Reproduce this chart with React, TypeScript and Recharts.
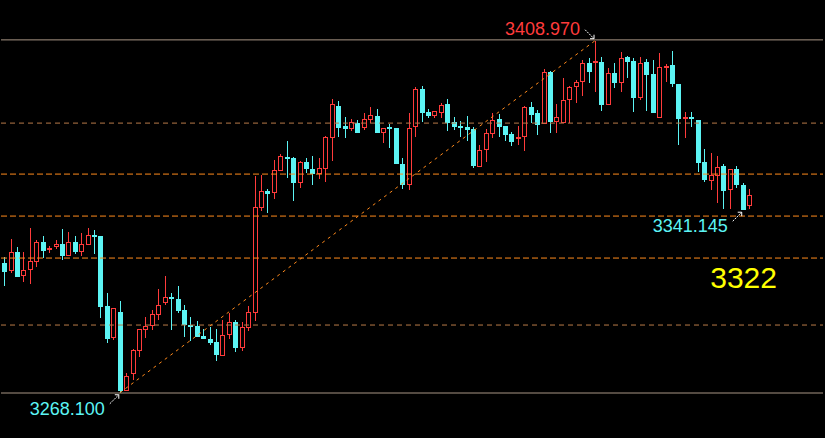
import { ComposedChart, Bar, Line, XAxis, YAxis, ReferenceLine, ReferenceDot } from 'recharts'

// OHLC per candle (left -> right)
const opens = [
  3320.2, 3316.9, 3324.5, 3315.0, 3317.4, 3320.6, 3328.5, 3325.2, 3326.6, 3327.7,
  3323.0, 3328.5, 3324.6, 3327.4, 3331.3, 3330.9, 3302.9, 3290.2, 3300.5, 3269.0,
  3275.6, 3285.0, 3293.4, 3294.9, 3299.4, 3304.2, 3306.4, 3305.7, 3301.3, 3295.2,
  3294.9, 3290.9, 3289.7, 3288.5, 3283.0, 3291.2, 3296.5, 3286.2, 3294.0, 3300.0,
  3342.2, 3348.9, 3348.2, 3357.0, 3362.5, 3362.1, 3352.2, 3360.5, 3357.7, 3355.8,
  3357.8, 3370.2, 3382.9, 3374.8, 3373.7, 3376.0, 3374.2, 3377.4, 3378.9, 3372.0,
  3374.4, 3374.0, 3359.7, 3351.4, 3374.6, 3389.6, 3380.4, 3379.0, 3380.2, 3383.7,
  3376.5, 3374.9, 3374.4, 3373.6, 3358.6, 3365.2, 3371.6, 3377.6, 3374.8, 3371.6,
  3369.8, 3370.4, 3382.4, 3380.0, 3375.6, 3396.5, 3376.6, 3376.0, 3385.2, 3390.4,
  3392.4, 3400.0, 3400.2, 3400.4, 3383.4, 3396.0, 3392.2, 3402.4, 3400.8, 3386.2,
  3400.4, 3395.6, 3378.0, 3398.2, 3399.2, 3391.6, 3377.6, 3378.4, 3377.3, 3360.5,
  3353.0, 3355.0, 3358.9, 3349.4, 3357.7, 3351.4, 3342.7,
]
const highs = [
  3322.6, 3329.7, 3326.5, 3324.5, 3334.1, 3329.3, 3330.9, 3326.9, 3329.3, 3333.7,
  3332.5, 3330.9, 3332.1, 3334.1, 3333.3, 3330.9, 3308.1, 3302.0, 3304.9, 3276.1,
  3285.7, 3293.7, 3298.5, 3301.3, 3309.7, 3314.9, 3308.0, 3310.9, 3303.3, 3298.5,
  3296.9, 3293.7, 3294.5, 3293.7, 3297.3, 3300.1, 3297.2, 3296.4, 3302.9, 3354.9,
  3355.3, 3349.7, 3361.3, 3363.7, 3368.9, 3362.5, 3360.9, 3362.1, 3362.9, 3362.1,
  3370.9, 3385.7, 3384.9, 3378.4, 3377.6, 3377.2, 3380.0, 3382.5, 3381.7, 3374.0,
  3375.6, 3374.0, 3362.0, 3380.0, 3390.4, 3390.8, 3381.6, 3380.8, 3384.0, 3385.6,
  3378.6, 3376.8, 3378.8, 3374.6, 3367.2, 3373.6, 3380.0, 3379.6, 3374.8, 3372.4,
  3374.9, 3382.8, 3384.5, 3381.3, 3397.6, 3396.9, 3383.7, 3394.0, 3391.0, 3393.2,
  3401.2, 3402.0, 3408.97, 3402.4, 3398.0, 3400.0, 3404.4, 3402.8, 3402.0, 3402.4,
  3401.6, 3401.2, 3404.0, 3399.7, 3404.8, 3391.6, 3380.4, 3380.4, 3377.3, 3365.8,
  3364.1, 3362.9, 3359.7, 3357.7, 3358.9, 3352.2, 3349.8,
]
const lows = [
  3311.0, 3316.2, 3314.6, 3312.5, 3311.8, 3318.6, 3322.0, 3324.2, 3325.7, 3321.4,
  3323.0, 3323.7, 3323.0, 3327.4, 3323.7, 3298.2, 3288.2, 3289.4, 3268.1, 3269.0,
  3273.3, 3282.6, 3290.2, 3293.3, 3297.3, 3303.3, 3293.3, 3300.2, 3290.6, 3289.0,
  3290.4, 3289.6, 3287.3, 3281.0, 3283.0, 3289.8, 3284.6, 3285.0, 3293.0, 3297.0,
  3341.0, 3340.2, 3345.8, 3357.0, 3354.2, 3345.0, 3350.2, 3356.0, 3351.4, 3353.8,
  3352.6, 3361.0, 3370.6, 3370.2, 3373.0, 3372.2, 3373.3, 3376.0, 3372.2, 3368.0,
  3366.0, 3359.6, 3349.8, 3349.4, 3370.6, 3376.6, 3378.2, 3378.2, 3378.2, 3373.0,
  3373.3, 3370.4, 3368.9, 3358.2, 3358.6, 3360.4, 3370.0, 3370.6, 3369.0, 3367.0,
  3367.4, 3365.0, 3376.0, 3371.4, 3375.6, 3372.2, 3372.0, 3376.0, 3376.0, 3384.2,
  3386.9, 3392.2, 3388.6, 3381.0, 3383.4, 3390.2, 3388.6, 3394.0, 3380.6, 3385.4,
  3381.0, 3380.2, 3378.0, 3392.4, 3390.4, 3367.4, 3370.0, 3374.6, 3356.6, 3352.6,
  3349.4, 3344.2, 3341.6, 3341.5, 3350.2, 3341.145, 3341.6,
]
const closes = [
  3316.6, 3324.4, 3314.6, 3317.3, 3320.9, 3328.5, 3325.0, 3326.1, 3327.7, 3323.0,
  3328.5, 3324.5, 3327.7, 3331.3, 3330.6, 3302.6, 3289.8, 3302.0, 3269.0, 3274.9,
  3285.3, 3293.7, 3294.9, 3299.7, 3303.3, 3306.4, 3305.7, 3300.9, 3295.3, 3294.6,
  3290.4, 3289.6, 3288.2, 3283.3, 3291.2, 3296.4, 3286.2, 3294.4, 3300.4, 3342.4,
  3348.9, 3347.7, 3357.2, 3362.9, 3361.8, 3352.2, 3360.5, 3357.6, 3355.8, 3358.0,
  3370.4, 3383.6, 3374.2, 3373.7, 3376.4, 3372.2, 3377.6, 3379.2, 3372.2, 3374.0,
  3373.7, 3359.6, 3351.4, 3374.0, 3389.6, 3380.2, 3379.0, 3380.8, 3383.2, 3376.0,
  3374.6, 3374.2, 3373.3, 3358.9, 3365.2, 3372.0, 3377.2, 3374.6, 3371.4, 3368.6,
  3370.4, 3382.4, 3379.3, 3375.3, 3396.4, 3376.5, 3378.4, 3385.2, 3390.4, 3392.4,
  3400.0, 3396.6, 3400.8, 3383.4, 3396.0, 3392.2, 3402.0, 3400.6, 3386.2, 3400.0,
  3395.4, 3380.2, 3398.6, 3398.8, 3391.6, 3377.6, 3378.4, 3377.6, 3360.2, 3353.3,
  3355.3, 3358.5, 3349.0, 3357.7, 3351.4, 3341.3, 3347.2,
]

// horizontal levels
const solidLevels = [3409.3, 3268.0]
const faintLevels = [3376.0, 3295.2]
const keyLevels = [3355.6, 3338.8, 3322.0]
const markLevel = 3322

const LOW_IDX = 18
const HIGH_IDX = 92
const LAST_LOW_IDX = 115
const SLOTS = 128 // empty space on the right

const data = Array.from({ length: SLOTS }, (_, i) => ({
  i,
  open: opens[i],
  high: highs[i],
  low: lows[i],
  close: closes[i],
  trend: i === LOW_IDX ? lows[LOW_IDX] : i === HIGH_IDX ? highs[HIGH_IDX] : null,
}))

const UP = '#ff3b3b'
const DOWN = '#5cf4f4'
const ORANGE = '#ff8a1c'
const FONT = 'Liberation Sans, Arial, sans-serif'

function Candle(props: any) {
  const { x, y, width, height, payload } = props
  if (!payload || payload.open == null) return <g />
  const top = Math.min(y, y + height)
  const bot = Math.max(y, y + height)
  const k = (bot - top) / (payload.high - payload.low)
  const cx = Math.round(x + width / 2)
  const yO = top + (payload.high - payload.open) * k
  const yC = top + (payload.high - payload.close) * k
  const up = payload.close >= payload.open
  const color = up ? UP : DOWN
  const bTop = Math.round(Math.min(yO, yC))
  const bBot = Math.max(Math.round(Math.max(yO, yC)), bTop + 1)
  return (
    <g>
      <line x1={cx + 0.5} x2={cx + 0.5} y1={Math.round(top)} y2={Math.round(bot)} stroke={color} />
      {up ? (
        <rect x={cx - 1.5} y={bTop + 0.5} width={4} height={Math.max(bBot - bTop - 1, 0)} fill="#000" stroke={color} />
      ) : (
        <rect x={cx - 2} y={bTop} width={5} height={bBot - bTop} fill={color} />
      )}
    </g>
  )
}

// small white arrow pointing at the extreme, with the price beside it
function Marker(text: string, color: string, below: boolean) {
  return (props: any) => {
    const { cx, cy } = props
    const s = below ? 1 : -1
    const tx = cx - 1
    const ty = cy + s * 2
    return (
      <g>
        <line x1={tx - 9} y1={ty + s * 9} x2={tx} y2={ty} stroke="#fff" strokeDasharray="2 1" />
        <polyline points={`${tx - 4},${ty} ${tx},${ty} ${tx},${ty + s * 4}`} fill="none" stroke="#fff" />
        <text x={cx - 15} y={below ? cy + 22 : cy - 6} textAnchor="end" fill={color} fontSize={18} fontFamily={FONT}>
          {text}
        </text>
      </g>
    )
  }
}

function LevelLabel(props: any) {
  const { viewBox } = props
  return (
    <text x={viewBox.x + viewBox.width - 46} y={viewBox.y + 30} textAnchor="end" fill="#ffff00" fontSize={30} fontFamily={FONT}>
      {String(markLevel)}
    </text>
  )
}

export default function App() {
  return (
    <div style={{ position: 'absolute', left: 0, top: 0, width: 825, height: 438, background: '#000' }}>
      <ComposedChart width={825} height={438} data={data} margin={{ top: 0, right: 2, bottom: 0, left: 1 }}>
        <XAxis dataKey="i" type="category" hide />
        <YAxis hide domain={[3250, 3425.26]} allowDataOverflow />
        {solidLevels.map(v => (
          <ReferenceLine key={v} y={v} stroke="#a89584" strokeWidth={1} />
        ))}
        {faintLevels.map(v => (
          <ReferenceLine key={v} y={v} stroke="#b87a48" strokeDasharray="5 4" />
        ))}
        {keyLevels.map(v => (
          <ReferenceLine
            key={v}
            y={v}
            stroke={ORANGE}
            strokeDasharray="6 3"
            label={v === markLevel ? <LevelLabel /> : undefined}
          />
        ))}
        <Line
          dataKey="trend"
          stroke={ORANGE}
          strokeDasharray="3 4"
          strokeWidth={1}
          dot={false}
          activeDot={false}
          connectNulls
          isAnimationActive={false}
        />
        <Bar
          dataKey={(d: any) => (d.high != null ? [d.low, d.high] : null)}
          shape={<Candle />}
          isAnimationActive={false}
        />
        <ReferenceDot x={HIGH_IDX} y={highs[HIGH_IDX]} shape={Marker('3408.970', UP, false)} />
        <ReferenceDot x={LOW_IDX} y={lows[LOW_IDX]} shape={Marker('3268.100', DOWN, true)} />
        <ReferenceDot x={LAST_LOW_IDX} y={lows[LAST_LOW_IDX]} shape={Marker('3341.145', DOWN, true)} />
      </ComposedChart>
    </div>
  )
}
